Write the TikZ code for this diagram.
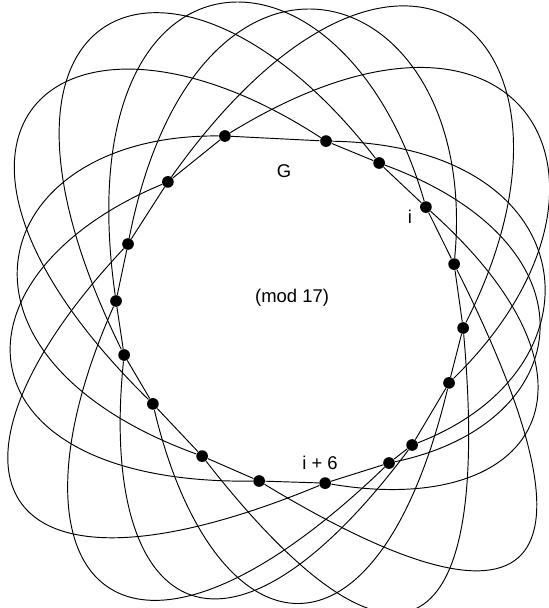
\documentclass[tikz,border=0pt]{standalone}
\usepackage{fontspec}
\setmainfont{Liberation Sans}
\usetikzlibrary{calc}

\tikzset{
  vertex/.style={circle,fill=black,inner sep=0pt,minimum size=0.39cm},
  lbl/.style={font=\fontsize{17.5pt}{20pt}\selectfont,inner sep=0pt}
}

\begin{document}
\begin{tikzpicture}[line width=0.9pt]
  \useasboundingbox (-9.667,-9.933) rectangle (8.6,10.333);

  % the 17 vertices, clockwise from the top
  \foreach \k/\x/\y in {1/-2.17/5.80, 2/1.20/5.63, 3/2.97/4.90, 4/4.53/3.43,
                        5/5.47/1.53, 6/5.77/-0.60, 7/5.30/-2.43, 8/4.07/-4.50,
                        9/3.30/-5.10, 10/1.17/-5.77, 11/-1.03/-5.70, 12/-2.93/-4.87,
                        13/-4.57/-3.13, 14/-5.53/-1.50, 15/-5.80/0.30, 16/-5.40/2.20,
                        17/-4.07/4.27}
    \node[vertex] (v\k) at (\x,\y) {};

  % cycle: k -- k+1
  \foreach \k in {1,...,17} {
    \pgfmathtruncatemacro{\j}{mod(\k,17)+1}
    \draw (v\k) -- (v\j);
  }

  % outer loops: k -- k+6 (mod 17)
  \foreach \k/\len in {1/10.3, 2/7.6, 3/6.9, 4/7.7, 5/10.97, 6/10.37,
                       7/9.23, 8/9.3, 9/10.97, 10/10.9, 11/8.9, 12/8.6,
                       13/11.4, 14/11.87, 15/11.0, 16/10.57, 17/11.8} {
    \pgfmathtruncatemacro{\j}{mod(\k+5,17)+1}
    \pgfmathsetmacro{\lo}{1.12*\len}
    \pgfmathsetmacro{\li}{0.9*\len}
    \draw let \p1=(v\k), \p2=(v\j),
              \n1={atan2(\y1,\x1)-79}, \n2={atan2(\y2,\x2)+69} in
      (v\k) to[out=\n1, in=\n2, out distance=\lo cm, in distance=\li cm] (v\j);
  }

  \node[lbl] (lblG)   at (-0.20,4.63)  {G};
  \node[lbl] (lbli)   at (4.00,3.10)   {i};
  \node[lbl] (lblmod) at (0.07,0.40)   {(mod 17)};
  \node[lbl] (lblis)  at (1.00,-5.10)  {i + 6};
\end{tikzpicture}
\end{document}
